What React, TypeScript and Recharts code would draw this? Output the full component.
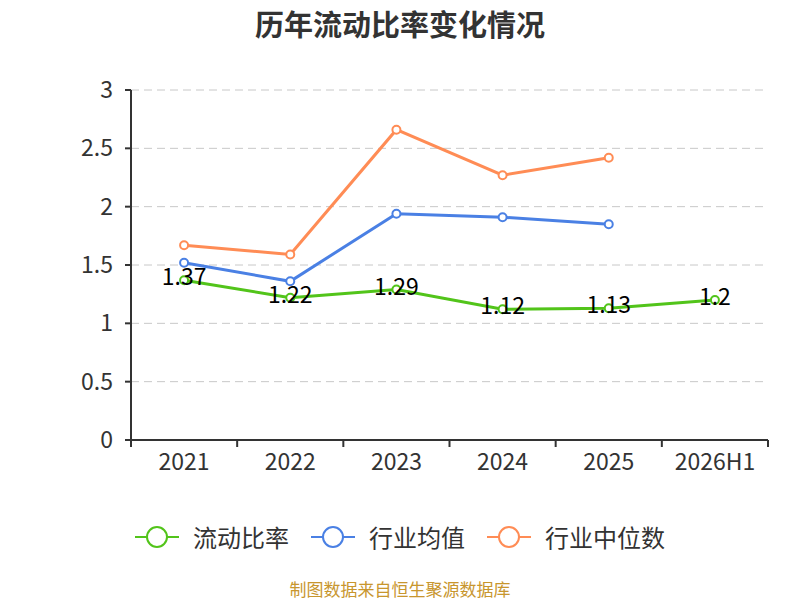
import { LineChart, Line, XAxis, YAxis, CartesianGrid, Legend, LabelList } from "recharts";

const years = ["2021", "2022", "2023", "2024", "2025", "2026H1"];
const currentRatio = [1.37, 1.22, 1.29, 1.12, 1.13, 1.2];
const industryAvg = [1.52, 1.36, 1.94, 1.91, 1.85, null];
const industryMedian = [1.67, 1.59, 2.66, 2.27, 2.42, null];
const yTicks = [0, 0.5, 1, 1.5, 2, 2.5, 3];
const centerTicks = [0.5, 1.5, 2.5, 3.5, 4.5, 5.5];
const edgeTicks = [0, 1, 2, 3, 4, 5, 6];

const seriesInfo = [
  { key: "ratio", name: "流动比率", color: "#52c41a" },
  { key: "avg", name: "行业均值", color: "#4a80e4" },
  { key: "median", name: "行业中位数", color: "#ff8c55" },
];

// idx puts each year in the middle of its band
const data = years.map((y, i) => ({
  year: y,
  idx: i + 0.5,
  ratio: currentRatio[i],
  avg: industryAvg[i],
  median: industryMedian[i],
}));

const font = "'Noto Sans CJK SC', 'Noto Sans', sans-serif";

function LegendContent() {
  return (
    <div style={{ display: "flex", justifyContent: "center", gap: 22, fontFamily: font }}>
      {seriesInfo.map((s) => (
        <div key={s.key} style={{ display: "flex", alignItems: "center" }}>
          <svg width={44} height={24} style={{ marginRight: 14 }}>
            <line x1={0} y1={12} x2={44} y2={12} stroke={s.color} strokeWidth={2} />
            <circle cx={22} cy={12} r={10} fill="#fff" stroke={s.color} strokeWidth={2} />
          </svg>
          <span style={{ fontSize: 24, color: "#333", lineHeight: "30px" }}>{s.name}</span>
        </div>
      ))}
    </div>
  );
}

export default function App() {
  return (
    <div style={{ position: "absolute", left: 0, top: 0, width: 800, height: 600, background: "#fff", fontFamily: font }}>
      <div style={{ position: "absolute", top: 3, width: 800, textAlign: "center", fontSize: 29, fontWeight: "bold", color: "#333", lineHeight: "40px" }}>
        历年流动比率变化情况
      </div>
      <LineChart width={800} height={600} data={data} margin={{ top: 90, right: 32, left: 0, bottom: 130 }}>
        <CartesianGrid vertical={false} strokeDasharray="8 5" stroke="#c8c8c8" />
        {/* band edges: axis line + tick marks */}
        <XAxis
          dataKey="idx"
          type="number"
          domain={[0, 6]}
          ticks={edgeTicks}
          height={1}
          axisLine={{ stroke: "#333", strokeWidth: 2 }}
          tickLine={{ stroke: "#333", strokeWidth: 2 }}
          tickSize={7}
          tickFormatter={() => ""}
        />
        {/* band centres: year labels */}
        <XAxis
          xAxisId="labels"
          dataKey="idx"
          type="number"
          domain={[0, 6]}
          ticks={centerTicks}
          tickFormatter={(v) => years[Math.floor(v)]}
          height={29}
          tickLine={false}
          axisLine={false}
          tick={{ fill: "#333", fontSize: 23 }}
          tickSize={6}
          tickMargin={7}
        />
        <YAxis
          domain={[0, 3]}
          ticks={yTicks}
          width={131}
          axisLine={{ stroke: "#333", strokeWidth: 2 }}
          tickLine={{ stroke: "#333", strokeWidth: 2 }}
          tick={{ fill: "#333", fontSize: 23 }}
          tickSize={6}
          tickMargin={12}
        />
        <Legend verticalAlign="middle" content={<LegendContent />} wrapperStyle={{ top: 522, left: 0, width: 800 }} />
        <Line
          dataKey="median"
          name="行业中位数"
          stroke="#ff8c55"
          strokeWidth={3}
          dot={{ r: 4, fill: "#fff", stroke: "#ff8c55", strokeWidth: 2 }}
          isAnimationActive={false}
        />
        <Line
          dataKey="avg"
          name="行业均值"
          stroke="#4a80e4"
          strokeWidth={3}
          dot={{ r: 4, fill: "#fff", stroke: "#4a80e4", strokeWidth: 2 }}
          isAnimationActive={false}
        />
        <Line
          dataKey="ratio"
          name="流动比率"
          stroke="#52c41a"
          strokeWidth={3}
          dot={{ r: 4, fill: "#fff", stroke: "#52c41a", strokeWidth: 2 }}
          isAnimationActive={false}
        >
          <LabelList dataKey="ratio" position="center" dy={-3} fill="#000" fontSize={23} />
        </Line>
      </LineChart>
      <div style={{ position: "absolute", top: 577, width: 800, textAlign: "center", fontSize: 17, color: "#c8962e", lineHeight: "24px" }}>
        制图数据来自恒生聚源数据库
      </div>
    </div>
  );
}
